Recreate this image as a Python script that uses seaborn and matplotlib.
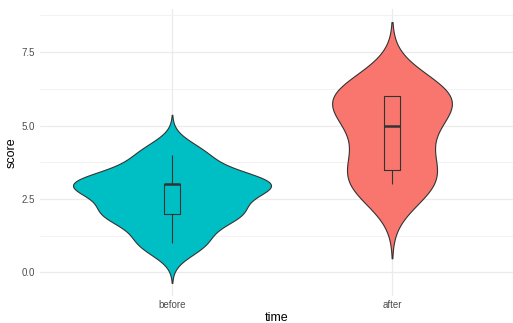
import numpy as np
import pandas as pd
import matplotlib
matplotlib.use("Agg")
import matplotlib.pyplot as plt
import seaborn as sns

# Paired scores before and after
before_scores = [1, 2, 2, 3, 3, 3, 4]
after_scores = [3, 3, 4, 5, 6, 6, 6]
time_levels = ["before", "after"]
palette = {"before": "#00BFC4", "after": "#F8766D"}

df = pd.DataFrame({
    "time": ["before"] * len(before_scores) + ["after"] * len(after_scores),
    "score": before_scores + after_scores,
})


def nrd0(kde):
    """Silverman's rule of thumb (R's bw.nrd0) expressed as a scipy factor."""
    x = np.asarray(kde.dataset).ravel()
    sd = x.std(ddof=1)
    q75, q25 = np.percentile(x, [75, 25])
    h = 0.9 * min(sd, (q75 - q25) / 1.34) * len(x) ** -0.2
    return h / sd


sns.set_theme(style="white")
plt.rcParams["font.family"] = ["Liberation Sans", "DejaVu Sans"]

fig = plt.figure(figsize=(5.13, 3.23), dpi=100)
ax = fig.add_axes([40 / 513, 27 / 323, 1 - 40 / 513, (296 - 9) / 323])

sns.violinplot(
    data=df, x="time", y="score", hue="time", order=time_levels,
    hue_order=time_levels, palette=palette, legend=False,
    inner=None, cut=3, bw_method=nrd0, gridsize=512,
    density_norm="area", common_norm=True, width=0.9, linewidth=0.8,
    linecolor="#333333", saturation=1, ax=ax,
)
sns.boxplot(
    data=df, x="time", y="score", order=time_levels, width=0.07,
    fill=False, color="#333333", linewidth=0.8, showcaps=False,
    medianprops={"linewidth": 1.8}, ax=ax,
)

# Axis extents: KDE tails (3 bandwidths) with 5% padding
ax.set_xlim(-0.6, 1.55)
ax.set_ylim(-0.81, 8.97)
ax.set_yticks([0, 2.5, 5.0, 7.5])
ax.set_yticklabels(["0.0", "2.5", "5.0", "7.5"])
ax.set_yticks([1.25, 3.75, 6.25, 8.75], minor=True)

ax.set_axisbelow(True)
ax.grid(True, which="major", color="#EBEBEB", linewidth=0.9)
ax.grid(True, which="minor", axis="y", color="#F0F0F0", linewidth=0.6)
for s in ax.spines.values():
    s.set_visible(False)

ax.tick_params(axis="both", which="both", length=0, labelsize=7,
               labelcolor="#4D4D4D")
ax.tick_params(axis="y", pad=3.5)
ax.tick_params(axis="x", pad=3)
ax.set_xlabel("time", fontsize=9, color="black", labelpad=1)
ax.set_ylabel("score", fontsize=9, color="black", labelpad=3)

fig.savefig("out.png", dpi=100, facecolor="white")
